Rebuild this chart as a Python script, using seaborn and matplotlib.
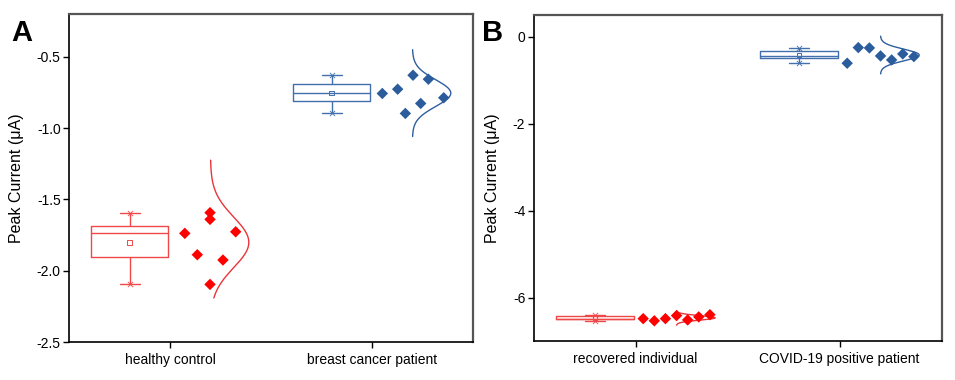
import numpy as np
import pandas as pd
import seaborn as sns
import matplotlib
matplotlib.use("Agg")
import matplotlib.pyplot as plt

# values (peak current, uA)
groups_a = ["healthy control", "breast cancer patient"]
healthy = [-1.738, -1.888, -1.593, -1.640, -2.096, -1.925, -1.727]
breast = [-0.757, -0.727, -0.897, -0.629, -0.827, -0.657, -0.787]

groups_b = ["recovered individual", "COVID-19 positive patient"]
recovered = [-6.48, -6.53, -6.48, -6.41, -6.51, -6.44, -6.39]
covid = [-0.605, -0.245, -0.253, -0.437, -0.529, -0.391, -0.452]

# layout: horizontal offsets of the data points to the right of each tick
offs_healthy = [0.073, 0.135, 0.198, 0.198, 0.198, 0.262, 0.325]
offs_breast = [0.051, 0.127, 0.165, 0.203, 0.241, 0.279, 0.355]
offs_even = [0.037 + 0.0545 * i for i in range(7)]

box_colors = ["#F04848", "#4170AD"]
pt_colors = ["#FF0000", "#2B5C9C"]
curve_colors = ["#E8353A", "#2E5E9E"]

sns.set_theme(style="ticks")
plt.rcParams["font.family"] = ["Liberation Sans", "DejaVu Sans"]
plt.rcParams["text.color"] = "black"
plt.rcParams["axes.labelcolor"] = "black"


def draw_panel(ax, names, values, offsets, spans, ylim, yticks):
    rows = []
    for i, (name, vals) in enumerate(zip(names, values)):
        for v in vals:
            rows.append({"group": name, "box_x": i + 1 - 0.2, "val": v})
    df = pd.DataFrame(rows)

    sns.boxplot(data=df, x="box_x", y="val", hue="group", palette=box_colors,
                fill=False, native_scale=True, width=0.38, whis=(0, 100),
                linewidth=1.0, capwidths=0.1, legend=False, ax=ax)

    for i, (vals, offs, span) in enumerate(zip(values, offsets, spans)):
        vals = np.array(vals)
        pos = i + 1
        # min / max markers and mean
        ax.scatter([pos - 0.2, pos - 0.2], [vals.min(), vals.max()], marker="x",
                   s=14, linewidths=0.6, color=box_colors[i], zorder=4)
        ax.scatter([pos - 0.2], [vals.mean()], marker="s", s=11,
                   facecolors="none", edgecolors=box_colors[i],
                   linewidths=0.7, zorder=4)
        # data points
        sns.scatterplot(x=[pos + o for o in offs], y=vals, marker="D", s=34,
                        color=pt_colors[i], edgecolor="none", ax=ax, zorder=5)
        # normal curve
        m, sd = vals.mean(), vals.std(ddof=1)
        yy = np.linspace(m - span[0] * sd, m + span[1] * sd, 200)
        xx = pos + 0.2 + 0.19 * np.exp(-0.5 * ((yy - m) / sd) ** 2)
        ax.plot(xx, yy, color=curve_colors[i], lw=1.0, zorder=3)

    ax.set_xlim(0.5, 2.5)
    ax.set_ylim(*ylim)
    ax.set_xticks([1, 2])
    ax.set_xticklabels(names)
    ax.set_yticks(yticks)
    ax.set_xlabel("")
    ax.set_ylabel("")
    ax.tick_params(direction="out", length=4, width=1.0, labelsize=10,
                   colors="black", labelcolor="black", pad=2)
    ax.tick_params(axis="x", pad=4)
    for side in ["left", "bottom"]:
        ax.spines[side].set_color("black")
        ax.spines[side].set_linewidth(1.2)
    for side in ["top", "right"]:
        ax.spines[side].set_visible(True)
        ax.spines[side].set_color("#555555")
        ax.spines[side].set_linewidth(1.6)


fig = plt.figure(figsize=(9.55, 3.8), dpi=100)
ax_a = fig.add_axes([0.0723, 0.1, 0.423, 0.863])
ax_b = fig.add_axes([0.5588, 0.102, 0.4272, 0.858])

draw_panel(ax_a, groups_a, [healthy, breast], [offs_healthy, offs_breast],
           [(2.2, 3.25), (3.25, 3.25)], (-2.5, -0.2),
           [-2.5, -2.0, -1.5, -1.0, -0.5])
ax_a.set_yticklabels(["-2.5", "-2.0", "-1.5", "-1.0", "-0.5"])

draw_panel(ax_b, groups_b, [recovered, covid], [offs_even, offs_even],
           [(3.25, 3.25), (3.25, 3.25)], (-7.0, 0.5), [-6, -4, -2, 0])
ax_b.set_yticklabels(["-6", "-4", "-2", "0"])

fig.text(16 / 955, 0.53, "Peak Current (\u03bcA)", rotation=90, ha="center",
         va="center", fontsize=11.5, color="black")
fig.text(492 / 955, 0.53, "Peak Current (\u03bcA)", rotation=90, ha="center",
         va="center", fontsize=11.5, color="black")
fig.text(11 / 955, 1 - 41 / 380, "A", fontsize=21, fontweight="bold",
         color="black")
fig.text(482 / 955, 1 - 41 / 380, "B", fontsize=21, fontweight="bold",
         color="black")

fig.savefig("out.png", dpi=100)
